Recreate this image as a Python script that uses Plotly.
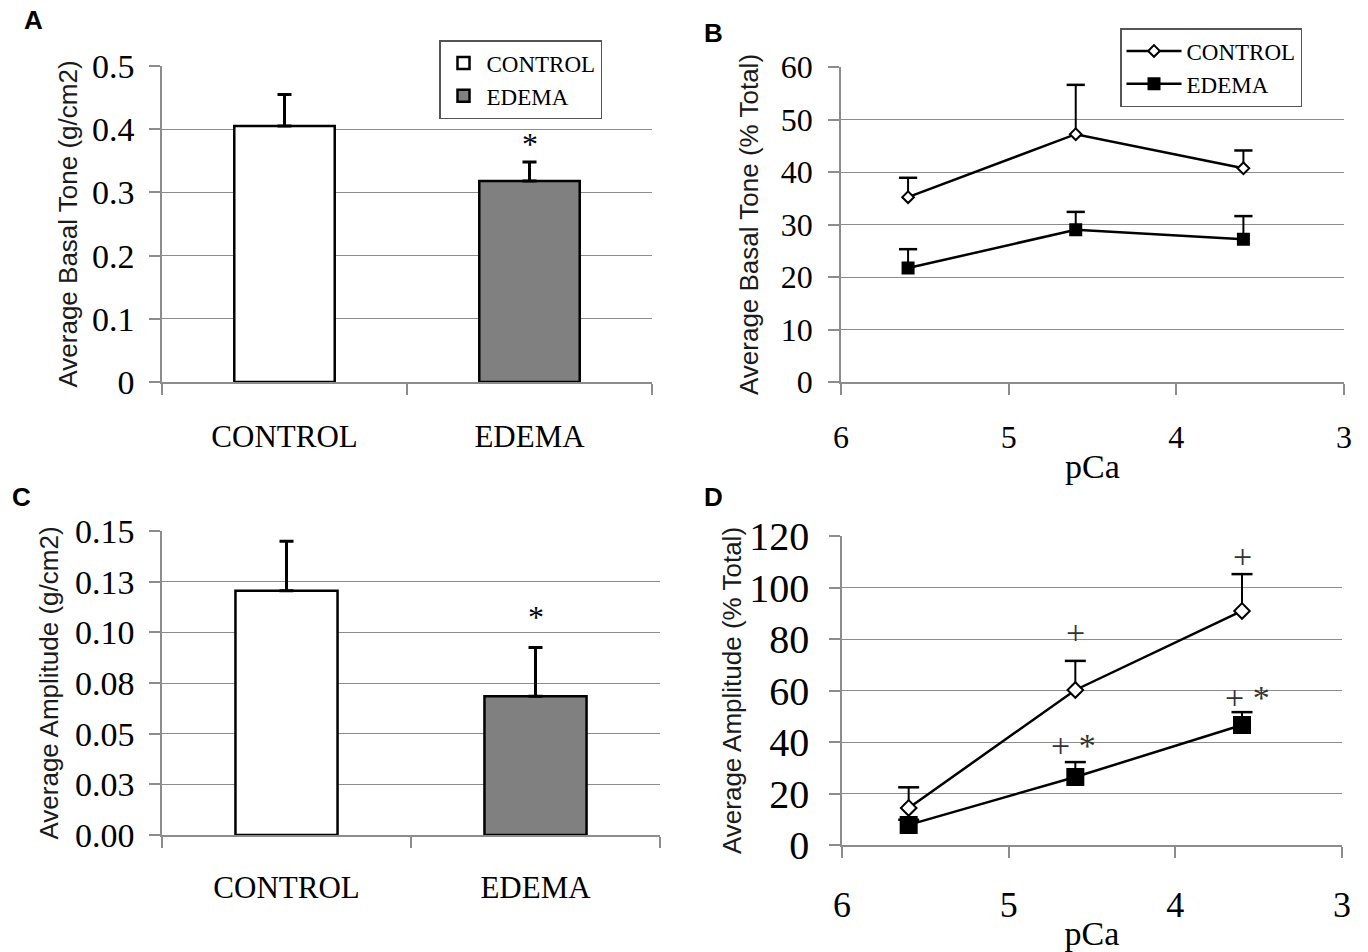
import plotly.graph_objects as go

# ---------------- data ----------------
groups = ["CONTROL", "EDEMA"]
a_tone = [0.405, 0.318]          # Panel A: average basal tone (g/cm2)
a_tone_err = [0.050, 0.030]
c_amp = [0.1205, 0.0685]         # Panel C: average amplitude (g/cm2)
c_amp_err = [0.0245, 0.0240]

pca = [5.6, 4.6, 3.6]
b_control = [35.2, 47.2, 40.7]   # Panel B: basal tone (% total)
b_control_err = [3.7, 9.4, 3.4]
b_edema = [21.7, 29.0, 27.2]
b_edema_err = [3.6, 3.4, 4.4]

d_control = [14.4, 60.2, 90.9]  # Panel D: amplitude (% total)
d_control_err = [8.0, 11.3, 14.3]
d_edema = [7.8, 26.4, 46.6]
d_edema_err = [2.0, 5.8, 5.0]

c_ticks = [0, 0.025, 0.05, 0.075, 0.10, 0.125, 0.15]
c_ticktext = ["0.00", "0.03", "0.05", "0.08", "0.10", "0.13", "0.15"]

# ---------------- style ----------------
SERIF = "Liberation Serif"
SANS = "Liberation Sans"
GRID = "#8c8c8c"
BAR_FILLS = ["white", "#808080"]

fig = go.Figure()

def add_bars(xa, ya, vals, errs, legend_on):
    for g, v, e, fc in zip(groups, vals, errs, BAR_FILLS):
        fig.add_trace(go.Bar(
            x=[g], y=[v], xaxis=xa, yaxis=ya, name=g, width=0.41,
            marker=dict(color=fc, line=dict(color="black", width=2.5)),
            error_y=dict(type="data", array=[e], arrayminus=[0], symmetric=False,
                         color="black", thickness=3, width=7),
            showlegend=legend_on, legend="legend",
        ))

add_bars("x", "y", a_tone, a_tone_err, True)
add_bars("x3", "y3", c_amp, c_amp_err, False)

def add_lines(xa, ya, vals, errs, name, symbol, msize, cap, legend_on):
    sx, sy = [], []
    for x, v, e in zip(pca, vals, errs):
        sx += [x, x, None]
        sy += [v, v + e, None]
    fig.add_trace(go.Scatter(x=sx, y=sy, xaxis=xa, yaxis=ya, mode="lines",
                             line=dict(color="black", width=2), showlegend=False,
                             hoverinfo="skip"))
    fig.add_trace(go.Scatter(x=pca, y=[v + e for v, e in zip(vals, errs)], xaxis=xa, yaxis=ya,
                             mode="markers", showlegend=False, hoverinfo="skip",
                             marker=dict(symbol="line-ew", size=cap,
                                         line=dict(color="black", width=2.5))))
    fig.add_trace(go.Scatter(
        x=pca, y=vals, xaxis=xa, yaxis=ya, name=name, mode="lines+markers",
        line=dict(color="black", width=2.5),
        marker=dict(symbol=symbol, size=msize, color="white" if "diamond" in symbol else "black",
                    line=dict(color="black", width=2)),
        showlegend=legend_on, legend="legend2",
    ))

add_lines("x2", "y2", b_control, b_control_err, "CONTROL", "diamond", 9, 13, True)
add_lines("x2", "y2", b_edema, b_edema_err, "EDEMA", "square", 11, 13, True)
add_lines("x4", "y4", d_control, d_control_err, "CONTROL", "diamond", 12, 15, False)
add_lines("x4", "y4", d_edema, d_edema_err, "EDEMA", "square", 16, 15, False)

W, H = 1368, 952
def dom_x(a, b):
    return [a / W, b / W]
def dom_y(top, bottom):
    return [(H - bottom) / H, (H - top) / H]

ytitlefont = dict(family=SANS, size=26, color="#1a1a1a")

def yaxis(domain, rng, title, standoff, fsize, lstand, **kw):
    d = dict(domain=domain, range=rng, showgrid=True, gridcolor=GRID, gridwidth=1.3,
             showline=True, linecolor=GRID, linewidth=1.5, ticks="outside", ticklen=11,
             tickcolor=GRID, tickwidth=1.5, zeroline=False,
             tickfont=dict(family=SERIF, size=fsize, color="black"),
             ticklabelstandoff=lstand,
             title=dict(text=title, font=ytitlefont, standoff=standoff))
    d.update(kw)
    return d

def xaxis_num(domain, anchor, size, standoff):
    return dict(domain=domain, anchor=anchor, range=[6, 3], tickvals=[6, 5, 4, 3],
                showgrid=False, zeroline=False, showline=True, linecolor=GRID, linewidth=1.5,
                ticks="outside", ticklen=11, tickcolor=GRID, tickwidth=1.5,
                tickfont=dict(family=SERIF, size=size, color="black"), ticklabelstandoff=standoff,
                title=dict(text="pCa", font=dict(family=SERIF, size=34, color="black"), standoff=0))

def xaxis_cat(domain, anchor, standoff):
    return dict(domain=domain, anchor=anchor, type="category", range=[-0.5, 1.5],
                categoryorder="array", categoryarray=groups, tickson="boundaries",
                showgrid=False, zeroline=False, showline=True, linecolor=GRID, linewidth=1.5,
                ticks="outside", ticklen=11, tickcolor=GRID, tickwidth=1.5,
                tickfont=dict(family=SERIF, size=31, color="black"), ticklabelstandoff=standoff)

fig.update_layout(
    width=W, height=H, margin=dict(l=0, r=0, t=0, b=0, autoexpand=False),
    paper_bgcolor="white", plot_bgcolor="white", barmode="overlay",
    xaxis=xaxis_cat(dom_x(162, 652), "y", 26),
    yaxis=yaxis(dom_y(66, 382), [0, 0.5], "Average Basal Tone (g/cm2)", 7, 34, 8,
                anchor="x", tickvals=[0, 0.1, 0.2, 0.3, 0.4, 0.5],
                ticktext=["0", "0.1", "0.2", "0.3", "0.4", "0.5"]),
    xaxis2=xaxis_num(dom_x(841, 1344), "y2", 32, 15),
    yaxis2=yaxis(dom_y(67, 382), [0, 60], "Average Basal Tone (% Total)", 15, 32, 9,
                 anchor="x2", dtick=10),
    xaxis3=xaxis_cat(dom_x(162, 660), "y3", 24),
    yaxis3=yaxis(dom_y(531, 835), [0, 0.15], "Average Amplitude (g/cm2)", 9, 34, 8,
                 anchor="x3", tickvals=c_ticks, ticktext=c_ticktext),
    xaxis4=xaxis_num(dom_x(842, 1342), "y4", 36, 16),
    yaxis4=yaxis(dom_y(536, 845), [0, 120], "Average Amplitude (% Total)", 0, 40, 12,
                 anchor="x4", dtick=20),
    legend=dict(x=439 / W, y=(H - 40) / H, xanchor="left", yanchor="top",
                bgcolor="white", bordercolor="#555555", borderwidth=1.5,
                font=dict(family=SERIF, size=23, color="black"), itemwidth=36,
                tracegroupgap=0),
    legend2=dict(x=1120 / W, y=(H - 28) / H, xanchor="left", yanchor="top",
                 bgcolor="white", bordercolor="#555555", borderwidth=1.5,
                 font=dict(family=SERIF, size=23, color="black"), itemwidth=55),
    showlegend=True,
)

ann = []
for txt, x, y in [("A", 22, 3), ("B", 702, 16), ("C", 10, 480), ("D", 702, 480)]:
    ann.append(dict(text=txt, x=x / W, y=(H - y) / H, xref="paper", yref="paper",
                    xanchor="left", yanchor="top", showarrow=False,
                    font=dict(family=SANS, size=26, color="black", weight="bold")))
star_font = dict(family=SERIF, size=32, color="black")
plus_font = dict(family=SERIF, size=34, color="#333333")
ann += [
    dict(text="*", x="EDEMA", y=a_tone[1] + a_tone_err[1] + 0.029, xref="x", yref="y",
         showarrow=False, font=star_font),
    dict(text="*", x="EDEMA", y=c_amp[1] + c_amp_err[1] + 0.015, xref="x3", yref="y3",
         showarrow=False, font=star_font),
    dict(text="+", x=pca[1], y=d_control[1] + d_control_err[1] + 11, xref="x4", yref="y4",
         showarrow=False, font=plus_font),
    dict(text="+", x=pca[2], y=d_control[2] + d_control_err[2] + 7, xref="x4", yref="y4",
         showarrow=False, font=plus_font),
    dict(text="+\u00a0*", x=pca[1] + 0.01, y=d_edema[1] + d_edema_err[1] + 6.5,
         xref="x4", yref="y4", showarrow=False, font=plus_font),
    dict(text="+\u00a0*", x=pca[2] - 0.03, y=d_edema[2] + d_edema_err[2] + 5.5,
         xref="x4", yref="y4", showarrow=False, font=plus_font),
]
fig.update_layout(annotations=ann)

fig.write_html("out.html", config={"displayModeBar": False},
               post_script="document.body.style.margin='0';")
